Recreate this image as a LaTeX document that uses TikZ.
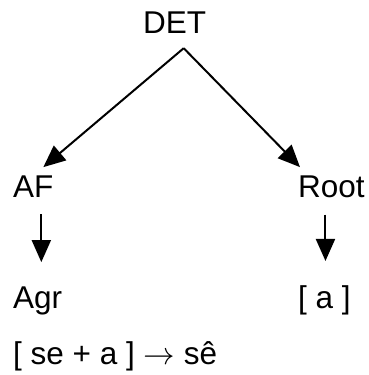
\RequirePackage{fix-cm}
\documentclass[tikz,border=0pt]{standalone}
\usepackage{fontspec}
\setmainfont{Liberation Sans}
\usetikzlibrary{arrows.meta}
\tikzset{lbl/.style={inner sep=0pt, anchor=base west, font=\fontsize{31.5}{38}\selectfont},
 arr/.style={draw, line width=2pt, -{Triangle[length=22pt,width=19pt]}},
 }

\begin{document}
\begin{tikzpicture}[x=1pt,y=1pt]
        \useasboundingbox (0,0) rectangle (369,-375);
        \node[lbl] (det) at (143,-33) {DET};
        \node[lbl] (af) at (13,-197) {AF};
        \node[lbl] (root) at (298,-197) {Root};
        \node[lbl] (agr) at (13,-308) {Agr};
        \node[lbl] (vow) at (298,-308) {[ a ]};
        \node[lbl] (rule) at (13,-364) {[ se + a ] $\rightarrow$ sê};
        \coordinate (apex) at ([shift={(9pt,-15pt)}]det.south);
        \draw[arr] (apex) -- ([shift={(10pt,8pt)}]af.north);
        \draw[arr] (apex) -- ([shift={(2pt,8pt)}]root.north west);
        \coordinate (afout) at ([shift={(8pt,-17pt)}]af.south);
        \coordinate (rootout) at ([shift={(-6pt,-17pt)}]root.south);
        \draw[arr, shorten >=24pt] (afout) -- (afout |- agr.north);
        \draw[arr, shorten >=24pt] (rootout) -- (rootout |- vow.north);
    \end{tikzpicture}
\end{document}
